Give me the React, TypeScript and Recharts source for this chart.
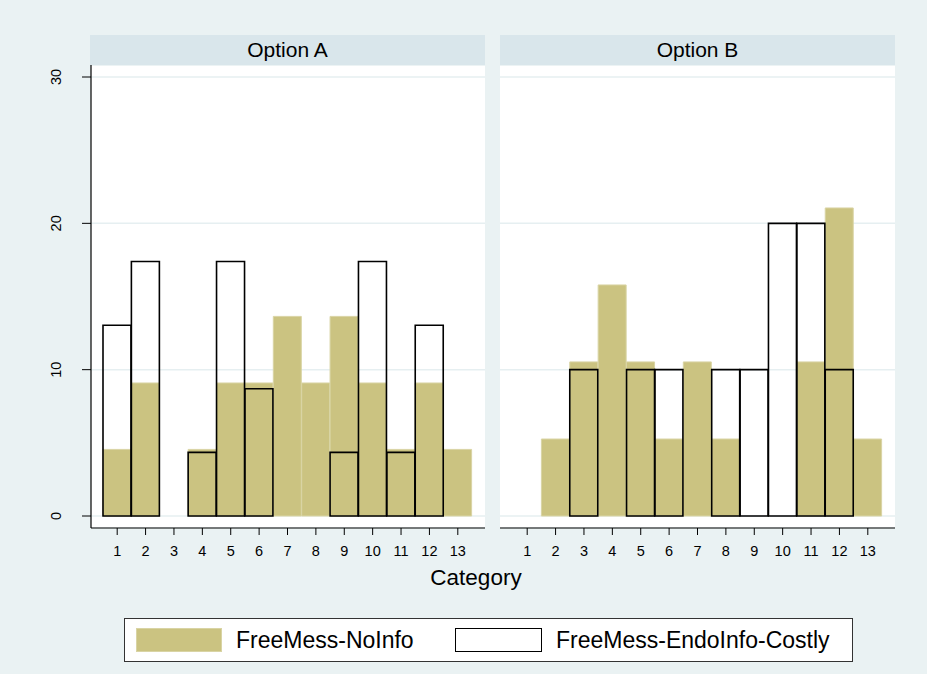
import React from 'react'
import { BarChart, Bar, XAxis, YAxis, CartesianGrid } from 'recharts'

const categories = ['1', '2', '3', '4', '5', '6', '7', '8', '9', '10', '11', '12', '13']

// percentages per category
const optionANoInfo = [4.55, 9.09, 0, 4.55, 9.09, 9.09, 13.64, 9.09, 13.64, 9.09, 4.55, 9.09, 4.55]
const optionAEndoCostly = [13.04, 17.39, 0, 4.35, 17.39, 8.7, 0, 0, 4.35, 17.39, 4.35, 13.04, 0]
const optionBNoInfo = [0, 5.26, 10.53, 15.79, 10.53, 5.26, 10.53, 5.26, 0, 0, 10.53, 21.05, 5.26]
const optionBEndoCostly = [0, 0, 10, 0, 10, 10, 0, 10, 10, 20, 20, 10, 0]

const yTicks = [0, 10, 20, 30]
const panelTitles = ['Option A', 'Option B']
const legendLabels = ['FreeMess-NoInfo', 'FreeMess-EndoInfo-Costly']

const FONT = '"Liberation Sans", Arial, sans-serif'
const BG = '#EAF2F3'
const STRIP = '#D9E6EB'
const KHAKI = '#CBC381'
const KHAKI_EDGE = '#D9D4A4'

const buildRows = (noInfo: number[], endo: number[]) =>
  categories.map((cat, i) => ({ cat, noInfo: noInfo[i], endo: endo[i] }))

const YTick = (props: any) => {
  const { y, payload } = props
  return (
    <text
      x={61}
      y={y}
      transform={`rotate(-90, 61, ${y})`}
      textAnchor="middle"
      fontSize={14.5}
      fontFamily={FONT}
      fill="#000"
    >
      {payload.value}
    </text>
  )
}

interface PanelProps {
  left: number
  width: number
  showY: boolean
  noInfo: number[]
  endo: number[]
  pad: { left: number; right: number }
}

const Panel = ({ left, width, showY, noInfo, endo, pad }: PanelProps) => {
  const data = buildRows(noInfo, endo)
  return (
    <div style={{ position: 'absolute', left, top: 65 }}>
      <BarChart
        width={width}
        height={493}
        data={data}
        margin={{ top: 0, right: 0, left: 0, bottom: 0 }}
        barCategoryGap={0}
        barGap={0}
      >
        <CartesianGrid
          horizontal={true}
          vertical={false}
          fill="#fff"
          stroke="#E6EFF1"
          strokeWidth={1.5}
        />
        <XAxis
          xAxisId="a"
          dataKey="cat"
          height={30}
          padding={pad}
          tickSize={7}
          tickMargin={11}
          tick={{ fontSize: 14.5, fontFamily: FONT, fill: '#000' }}
          tickLine={{ stroke: '#000' }}
          axisLine={{ stroke: '#000', strokeWidth: 1.2 }}
          interval={0}
        />
        <XAxis xAxisId="b" dataKey="cat" hide={true} padding={pad} />
        <YAxis
          domain={[0, 30]}
          ticks={yTicks}
          width={showY ? 91 : 0}
          hide={!showY}
          padding={{ top: 12, bottom: 12 }}
          tickSize={9}
          tick={<YTick />}
          tickLine={{ stroke: '#000' }}
          axisLine={{ stroke: '#000', strokeWidth: 1.2 }}
        />
        <Bar
          xAxisId="a"
          dataKey="noInfo"
          fill={KHAKI}
          stroke={KHAKI_EDGE}
          strokeWidth={1}
          isAnimationActive={false}
        />
        <Bar
          xAxisId="b"
          dataKey="endo"
          fill="none"
          stroke="#000"
          strokeWidth={1.6}
          isAnimationActive={false}
        />
      </BarChart>
    </div>
  )
}

const Strip = ({ left, title }: { left: number; title: string }) => (
  <div
    style={{
      position: 'absolute',
      left,
      top: 35,
      width: 395,
      height: 30,
      background: STRIP,
      fontFamily: FONT,
      fontSize: 21,
      lineHeight: '29px',
      textAlign: 'center',
      color: '#000',
    }}
  >
    {title}
  </div>
)

export default function App() {
  return (
    <div
      style={{
        position: 'absolute',
        left: 0,
        top: 0,
        width: 927,
        height: 674,
        background: BG,
        overflow: 'hidden',
      }}
    >
      <Strip left={90} title={panelTitles[0]} />
      <Strip left={500} title={panelTitles[1]} />
      <Panel
        left={0}
        width={485}
        showY={true}
        noInfo={optionANoInfo}
        endo={optionAEndoCostly}
        pad={{ left: 12, right: 13 }}
      />
      <Panel
        left={500}
        width={395}
        showY={false}
        noInfo={optionBNoInfo}
        endo={optionBEndoCostly}
        pad={{ left: 13, right: 13 }}
      />
      <div
        style={{
          position: 'absolute',
          left: 0,
          width: 952,
          top: 565,
          textAlign: 'center',
          fontFamily: FONT,
          fontSize: 22.5,
          lineHeight: '26px',
          color: '#000',
        }}
      >
        Category
      </div>
      <div
        style={{
          position: 'absolute',
          left: 124,
          top: 618,
          width: 727,
          height: 42,
          background: '#fff',
          border: '1px solid #333',
          fontFamily: FONT,
          fontSize: 23,
          color: '#000',
        }}
      >
        <div
          style={{
            position: 'absolute',
            left: 11,
            top: 9,
            width: 86,
            height: 24,
            background: KHAKI,
            boxSizing: 'border-box',
            border: `1px solid ${KHAKI_EDGE}`,
          }}
        />
        <div style={{ position: 'absolute', left: 111, top: 8, lineHeight: '26px' }}>
          {legendLabels[0]}
        </div>
        <div
          style={{
            position: 'absolute',
            left: 330,
            top: 9,
            width: 87,
            height: 24,
            background: '#fff',
            boxSizing: 'border-box',
            border: '1.6px solid #000',
          }}
        />
        <div style={{ position: 'absolute', left: 431, top: 8, lineHeight: '26px' }}>
          {legendLabels[1]}
        </div>
      </div>
    </div>
  )
}
